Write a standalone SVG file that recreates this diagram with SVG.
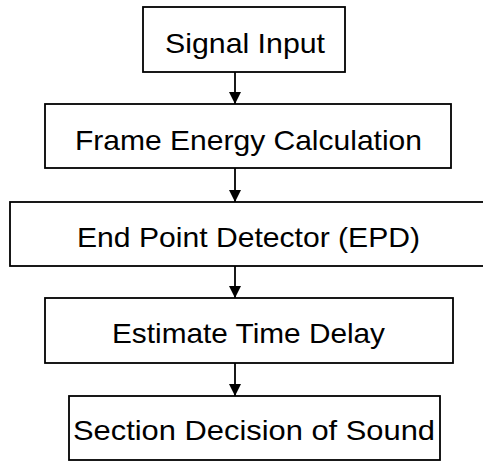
<svg xmlns="http://www.w3.org/2000/svg" width="483" height="462" viewBox="0 0 483 462">
<style>
.box{fill:#fff;stroke:#000;stroke-width:1.8}
.lbl{font-family:"Liberation Sans",Arial,sans-serif;font-size:28px;fill:#000}
.conn{stroke:#000;stroke-width:1.8;fill:none}
</style>
<defs>
<marker id="ah" markerWidth="12" markerHeight="12" viewBox="0 0 12 12" refX="12" refY="6" orient="auto" markerUnits="userSpaceOnUse">
<path d="M0,0 L12,6 L0,12 Z" fill="#000"/>
</marker>
</defs>
<rect width="483" height="462" fill="#fff"/>
<g id="connectors">
<line class="conn" x1="235" y1="72" x2="235" y2="104" marker-end="url(#ah)"/>
<line class="conn" x1="235" y1="168" x2="235" y2="202" marker-end="url(#ah)"/>
<line class="conn" x1="235" y1="266" x2="235" y2="298" marker-end="url(#ah)"/>
<line class="conn" x1="235" y1="363" x2="235" y2="396" marker-end="url(#ah)"/>
</g>
<g id="n1">
<rect class="box" x="143" y="7" width="202" height="65"/>
<text class="lbl" x="165" y="53" textLength="160" lengthAdjust="spacingAndGlyphs">Signal Input</text>
</g>
<g id="n2">
<rect class="box" x="45" y="104" width="406" height="64"/>
<text class="lbl" x="75" y="150" textLength="347" lengthAdjust="spacingAndGlyphs">Frame Energy Calculation</text>
</g>
<g id="n3">
<rect class="box" x="10" y="202" width="480" height="64"/>
<text class="lbl" x="77" y="247" textLength="343" lengthAdjust="spacingAndGlyphs">End Point Detector (EPD)</text>
</g>
<g id="n4">
<rect class="box" x="45" y="298" width="408" height="65"/>
<text class="lbl" x="112" y="343" textLength="273" lengthAdjust="spacingAndGlyphs">Estimate Time Delay</text>
</g>
<g id="n5">
<rect class="box" x="69" y="396" width="371" height="64"/>
<text class="lbl" x="73" y="440" textLength="362" lengthAdjust="spacingAndGlyphs">Section Decision of Sound</text>
</g>
</svg>
